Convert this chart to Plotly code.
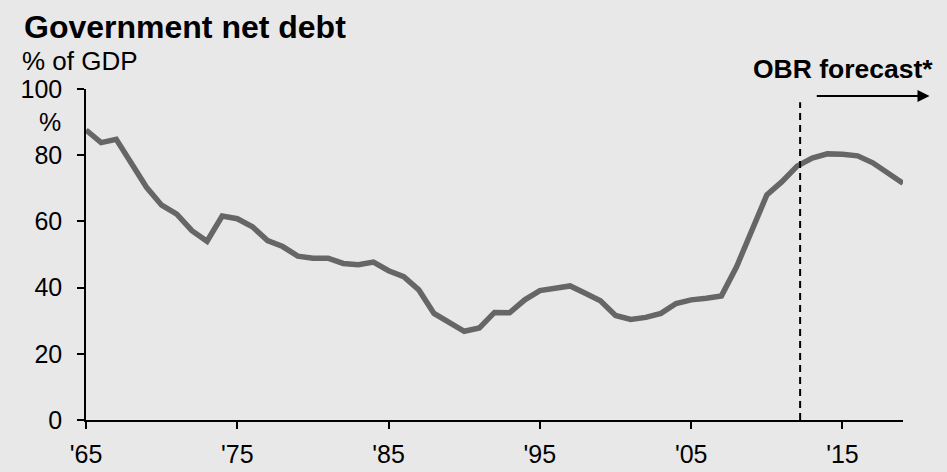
import plotly.graph_objects as go

years = list(range(1965, 2020))
debt = [87.6, 83.8, 84.8, 77.5, 70.3, 64.9, 62.2, 57.2, 54.0, 61.6,
        60.8, 58.4, 54.2, 52.4, 49.5, 48.9, 48.9, 47.3, 46.9, 47.7,
        45.1, 43.3, 39.3, 32.2, 29.4, 26.8, 27.8, 32.5, 32.4, 36.3,
        39.1, 39.8, 40.5, 38.3, 36.0, 31.6, 30.4, 31.0, 32.2, 35.2,
        36.3, 36.8, 37.5, 46.3, 57.4, 68.0, 72.0, 76.7, 79.1, 80.4,
        80.3, 79.8, 77.7, 74.7, 71.5]
x_tickvals = [1965, 1975, 1985, 1995, 2005, 2015]
x_ticktext = ["'65", "'75", "'85", "'95", "'05", "'15"]
y_tickvals = [0, 20, 40, 60, 80, 100]
forecast_start = 2012.2

FONT = "Arial, Liberation Sans, sans-serif"
BG = "#e8e8e8"

fig = go.Figure()
fig.add_trace(go.Scatter(x=years, y=debt, mode="lines",
                         line=dict(color="#666666", width=5.5),
                         hoverinfo="skip", cliponaxis=False))

fig.add_shape(type="line", xref="x", yref="y", x0=forecast_start, x1=forecast_start,
              y0=0, y1=96, line=dict(color="black", width=2, dash="7px,5px"))

fig.add_annotation(xref="x", yref="y", x=2020.75, y=97.9, ax=2013.2, ay=97.9,
                   axref="x", ayref="y", showarrow=True, arrowhead=2,
                   arrowsize=1.2, arrowwidth=2, arrowcolor="black", text="")

fig.add_annotation(xref="paper", yref="paper", x=1, y=1, xanchor="right", yanchor="middle",
                   xshift=32, yshift=20, showarrow=False, text="<b>OBR forecast*</b>",
                   font=dict(family=FONT, size=26.5, color="black"))
fig.add_annotation(xref="paper", yref="paper", x=0, y=1, xanchor="left", yanchor="middle",
                   xshift=-64, yshift=62, showarrow=False, text="<b>Government net debt</b>",
                   font=dict(family=FONT, size=32, color="black"))
fig.add_annotation(xref="paper", yref="paper", x=0, y=1, xanchor="left", yanchor="middle",
                   xshift=-66, yshift=28, showarrow=False, text="% of GDP",
                   font=dict(family=FONT, size=26, color="black"))
fig.add_annotation(xref="paper", yref="y", x=0, y=90, xanchor="right", yanchor="middle",
                   xshift=-23, showarrow=False, text="%",
                   font=dict(family=FONT, size=25, color="black"))

fig.update_layout(
    width=947, height=472,
    margin=dict(l=86, r=44, t=89, b=52),
    paper_bgcolor=BG, plot_bgcolor=BG,
    showlegend=False,
    font=dict(family=FONT, size=25, color="black"),
)
fig.update_xaxes(range=[1965, 2019], tickvals=x_tickvals, ticktext=x_ticktext,
                 showgrid=False, zeroline=False, showline=True, linecolor="black",
                 linewidth=1.5, ticks="outside", ticklen=7, tickwidth=1.5,
                 tickcolor="black", tickfont=dict(size=25), automargin=False,
                 ticklabelstandoff=4)
fig.update_yaxes(range=[0, 100], tickvals=y_tickvals, showgrid=False, zeroline=False,
                 showline=True, linecolor="black", linewidth=1.5, ticks="outside",
                 ticklen=7, tickwidth=1.5, tickcolor="black", tickfont=dict(size=25),
                 ticklabelstandoff=10, automargin=False)

fig.write_html("out.html", config={"displayModeBar": False},
               post_script="document.body.style.margin='0';"
                           "document.body.style.background='#e8e8e8';")
